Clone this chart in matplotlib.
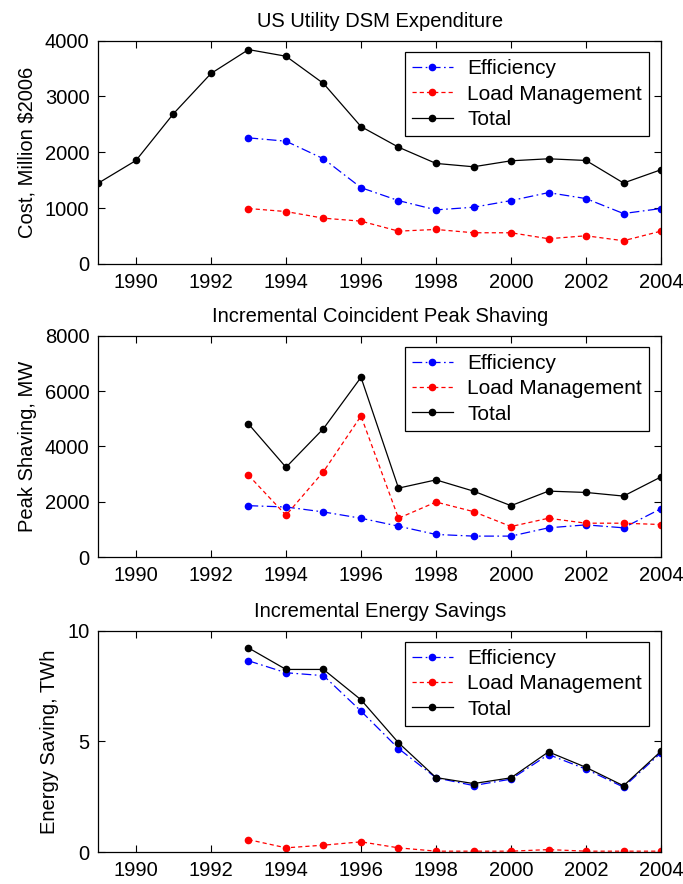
"""
Plot US utility DSM spending, peak shaving and energy savings by year.
"""
import matplotlib
matplotlib.use('Agg')
import matplotlib.pyplot as plt
import numpy as np

OUTPUT = 'out.png'

YEARS_ALL = np.arange(1989, 2005)
YEARS = np.arange(1993, 2005)

# Expenditure, million $2006
COST_TOTAL = [1450, 1854, 2692, 3412, 3840, 3721, 3233, 2461,
              2092, 1801, 1741, 1848, 1884, 1854, 1450, 1688]
COST_EFF = [2259, 2199, 1884, 1367, 1135, 969, 1016, 1135, 1278, 1171, 903, 993]
COST_LM = [993, 939, 820, 767, 588, 618, 559, 559, 452, 505, 416, 588]

# Incremental coincident peak shaving, MW
PEAK_TOTAL = [4812, 3248, 4645, 6496, 2496, 2794, 2388, 1863, 2388, 2340, 2209, 2901]
PEAK_EFF = [1863, 1815, 1636, 1409, 1122, 824, 764, 764, 1063, 1170, 1063, 1755]
PEAK_LM = [2961, 1516, 3093, 5099, 1409, 1994, 1648, 1110, 1409, 1230, 1230, 1182]

# Incremental energy savings, TWh
ENERGY_TOTAL = [9.22, 8.25, 8.25, 6.88, 4.94, 3.37, 3.10, 3.36, 4.53, 3.83, 3.00, 4.56]
ENERGY_EFF = [8.64, 8.10, 7.97, 6.37, 4.68, 3.36, 3.01, 3.30, 4.41, 3.75, 2.94, 4.49]
ENERGY_LM = [0.57, 0.20, 0.32, 0.47, 0.20, 0.05, 0.05, 0.05, 0.12, 0.05, 0.05, 0.05]

LABELS = ['Efficiency', 'Load Management', 'Total']
XTICKS = np.arange(1990, 2005, 2)

plt.rcParams['font.family'] = ['Liberation Sans', 'DejaVu Sans']
plt.rcParams['font.size'] = 14.5
plt.rcParams['lines.scale_dashes'] = False


def draw_panel(ax, eff, lm, total, total_years, title, ylabel, yticks):
    ax.plot(YEARS, eff, color='blue', dashes=(7, 2.5, 1.2, 2.5), lw=0.9,
            marker='.', markersize=9, label=LABELS[0])
    ax.plot(YEARS, lm, color='red', dashes=(3, 2.2), lw=0.9,
            marker='.', markersize=9, label=LABELS[1])
    ax.plot(total_years, total, color='black', lw=0.9,
            marker='.', markersize=9, label=LABELS[2])
    ax.set_xlim(1989, 2004)
    ax.set_ylim(yticks[0], yticks[-1])
    ax.set_xticks(XTICKS)
    ax.set_yticks(yticks)
    ax.tick_params(direction='in', top=True, right=True, length=5, width=0.8,
                   pad=6.5)
    for spine in ax.spines.values():
        spine.set_linewidth(0.9)
    ax.set_title(title, fontsize=14.5, pad=10)
    ax.set_ylabel(ylabel, labelpad=6)
    leg = ax.legend(loc='upper right', bbox_to_anchor=(0.979, 0.949),
                    borderaxespad=0, fancybox=False, framealpha=1,
                    edgecolor='black', handlelength=1.95, handletextpad=0.7,
                    labelspacing=0.3, borderpad=0.35, fontsize=15)
    leg.get_frame().set_linewidth(0.9)


def plot_all(output_filename):
    fig = plt.figure(figsize=(6.83, 8.84), dpi=100)
    left, width = 0.1442, 0.8236
    ax1 = fig.add_axes([left, 0.7014, width, 0.2526])
    ax2 = fig.add_axes([left, 0.3696, width, 0.2507])
    ax3 = fig.add_axes([left, 0.0359, width, 0.2507])
    draw_panel(ax1, COST_EFF, COST_LM, COST_TOTAL, YEARS_ALL,
               'US Utility DSM Expenditure', 'Cost, Million $2006',
               [0, 1000, 2000, 3000, 4000])
    draw_panel(ax2, PEAK_EFF, PEAK_LM, PEAK_TOTAL, YEARS,
               'Incremental Coincident Peak Shaving', 'Peak Shaving, MW',
               [0, 2000, 4000, 6000, 8000])
    draw_panel(ax3, ENERGY_EFF, ENERGY_LM, ENERGY_TOTAL, YEARS,
               'Incremental Energy Savings', 'Energy Saving, TWh',
               [0, 5, 10])
    fig.savefig(output_filename, dpi=100)


if __name__ == "__main__":
    plot_all(OUTPUT)
